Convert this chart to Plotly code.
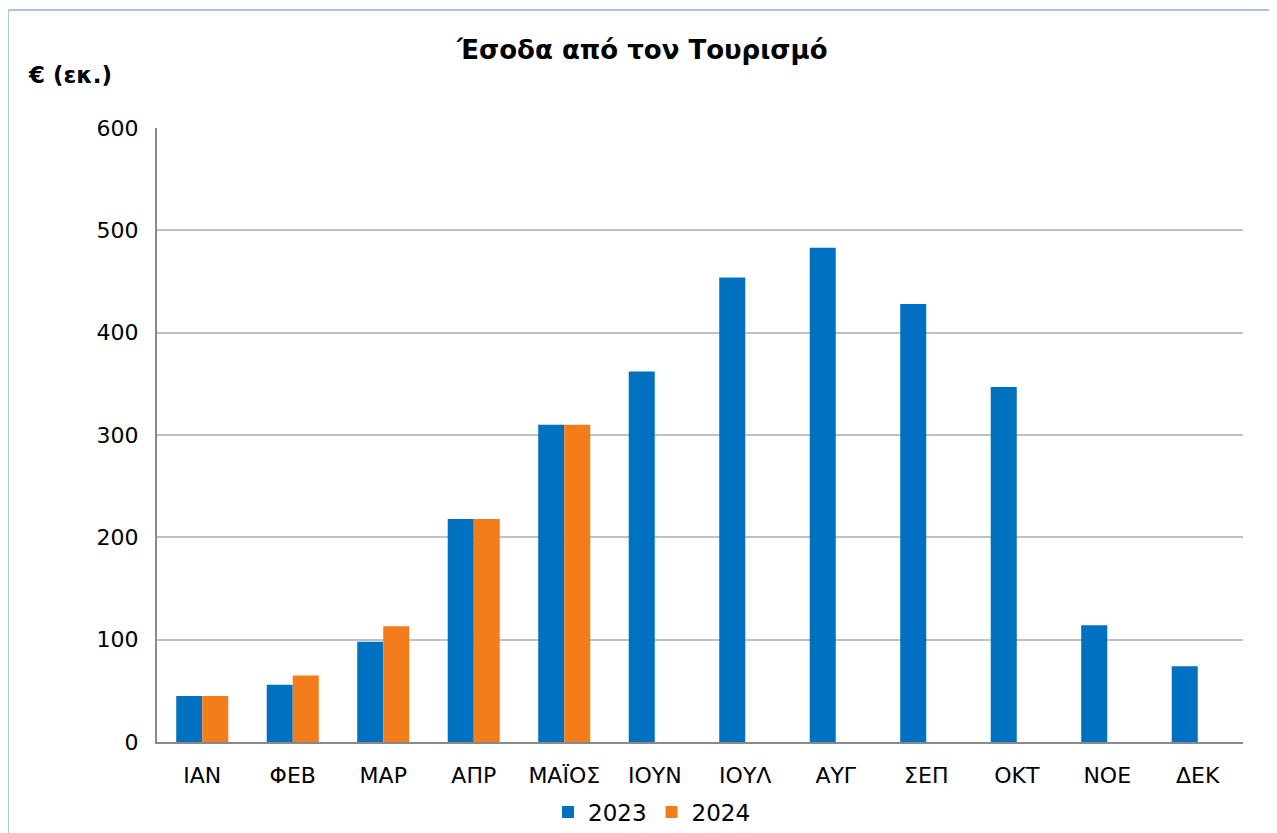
import plotly.graph_objects as go

months = ["ΙΑΝ", "ΦΕΒ", "ΜΑΡ", "ΑΠΡ", "ΜΑΪΟΣ", "ΙΟΥΝ", "ΙΟΥΛ", "ΑΥΓ", "ΣΕΠ", "ΟΚΤ", "ΝΟΕ", "ΔΕΚ"]
values_2023 = [45, 56, 98, 218, 310, 362, 454, 483, 428, 347, 114, 74]
values_2024 = [45, 65, 113, 218, 310, None, None, None, None, None, None, None]
y_ticks = [0, 100, 200, 300, 400, 500, 600]

OFF = 8  # page body margin
W, H = 1277 - OFF, 833 - OFF
L, R, T, B = 157 - OFF, 1243 - OFF, 128 - OFF, 742 - OFF


def px_x(p):
    return (p - OFF - L) / (R - L)


def px_y(p):
    return (B - (p - OFF)) / (B - T)


fig = go.Figure()
fig.add_trace(go.Bar(x=months, y=values_2023, name="2023",
                     marker=dict(color="#0070C0", line=dict(width=0))))
fig.add_trace(go.Bar(x=months, y=values_2024, name="2024",
                     marker=dict(color="#F47D1B", line=dict(width=0))))

font_family = "DejaVu Sans, Verdana, sans-serif"

fig.update_layout(
    width=W, height=H,
    margin=dict(l=L, r=W - R, t=T, b=H - B, autoexpand=False),
    plot_bgcolor="white", paper_bgcolor="white",
    barmode="group", bargap=0.425, bargroupgap=0,
    font=dict(family=font_family, size=20, color="#000000"),
    showlegend=True,
    legend=dict(orientation="h", xref="container", yref="container",
                x=(652 - OFF) / W, xanchor="center",
                y=1 - (812 - OFF) / H, yanchor="middle",
                font=dict(size=23), traceorder="normal", bgcolor="rgba(0,0,0,0)"),
    xaxis=dict(showgrid=False, showline=True, linecolor="#898989", linewidth=2,
               ticks="", tickfont=dict(size=22), ticklabelstandoff=13,
               automargin=False, fixedrange=True),
    yaxis=dict(range=[0, 600], tickvals=y_ticks, showgrid=True, gridcolor="#C0C0C0", gridwidth=2,
               showline=True, linecolor="#898989", linewidth=2, zeroline=False,
               ticks="", tickfont=dict(size=22), ticklabelstandoff=12,
               automargin=False, fixedrange=True),
    annotations=[
        dict(text="<b>Έσοδα από τον Τουρισμό</b>", xref="paper", yref="paper",
             x=px_x(642), y=px_y(50), xanchor="center", yanchor="middle", showarrow=False,
             font=dict(family=font_family, size=26)),
        dict(text="<b>€ (εκ.)</b>", xref="paper", yref="paper",
             x=px_x(26), y=px_y(75), xanchor="left", yanchor="middle", showarrow=False,
             font=dict(family=font_family, size=23)),
    ],
    shapes=[
        dict(type="line", xref="paper", yref="paper",
             x0=px_x(8), x1=px_x(1290), y0=px_y(10), y1=px_y(10),
             line=dict(color="#A9C4EB", width=2)),
        dict(type="line", xref="paper", yref="paper",
             x0=px_x(8), x1=px_x(8), y0=px_y(10), y1=px_y(850),
             line=dict(color="#A9C4EB", width=2)),
    ],
)

fig.write_html("out.html")
